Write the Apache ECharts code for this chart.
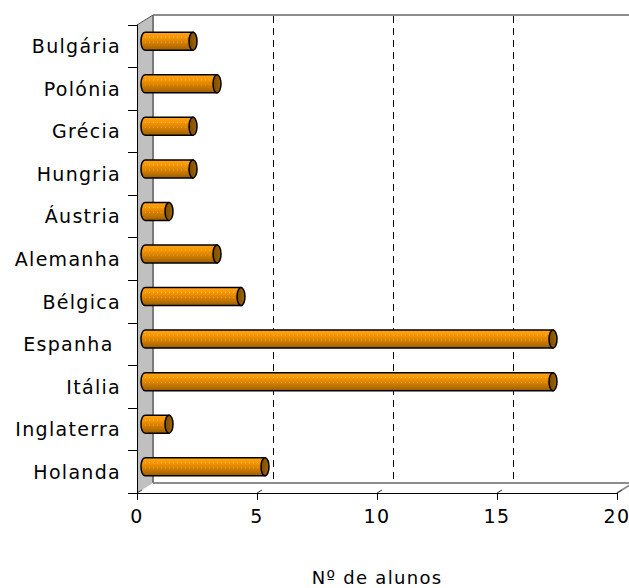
<!DOCTYPE html>
<html>
<head>
<meta charset="utf-8">
<script src="https://cdn.jsdelivr.net/npm/echarts@6/dist/echarts.min.js"></script>
<style>
  html, body { margin: 0; padding: 0; background: #fff; }
  #chart { width: 629px; height: 588px; }
  #chart text { letter-spacing: 1.3px; }
</style>
</head>
<body>
<div id="chart"></div>
<script>
// Students per country (bottom to top)
const categories = ['Holanda', 'Inglaterra', 'Itália', 'Espanha ', 'Bélgica', 'Alemanha', 'Áustria', 'Hungria', 'Grécia', 'Polónia', 'Bulgária'];
const alunos = [5, 1, 17, 17, 4, 3, 1, 2, 2, 3, 2];
// Value axis settings and back-wall grid lines
const axisMin = 0;
const axisMax = 20;
const axisStep = 5;
const gridValues = [5, 10, 15];
const tickValues = [0, 5, 10, 15, 20];
const axisTitle = 'Nº de alunos';

// Pseudo-3D depth offset of the back plane
const DX = 16, DY = -10;
const FONT = 'DejaVu Sans, Verdana, sans-serif';

const chart = echarts.init(document.getElementById('chart'), null, { renderer: 'svg' });

function renderFrame(params, api) {
  const cs = params.coordSys;
  const x = cs.x, y = cs.y, w = cs.width, h = cs.height;
  return {
    type: 'group',
    children: [
      { type: 'polygon', shape: { points: [[x, y + h], [x + DX, y + h + DY], [x + w + DX, y + h + DY], [x + w, y + h]] }, style: { fill: '#ffffff' } },
      { type: 'polygon', shape: { points: [[x, y], [x + DX, y + DY], [x + DX, y + h + DY], [x, y + h]] }, style: { fill: '#c0c0c0' } },
      { type: 'line', shape: { x1: x + DX, y1: y + DY, x2: x + w + DX, y2: y + DY }, style: { stroke: '#8c8c8c', lineWidth: 2 } },
      { type: 'line', shape: { x1: x + DX, y1: y + h + DY, x2: x + w + DX, y2: y + h + DY }, style: { stroke: '#8c8c8c', lineWidth: 2 } },
      { type: 'line', shape: { x1: x + DX, y1: y + DY, x2: x + DX, y2: y + h + DY }, style: { stroke: '#7a7a7a', lineWidth: 2 } },
      { type: 'line', shape: { x1: x, y1: y, x2: x + DX, y2: y + DY }, style: { stroke: '#555555', lineWidth: 1 } },
      { type: 'line', shape: { x1: x + w, y1: y + h, x2: x + w + DX, y2: y + h + DY }, style: { stroke: '#8c8c8c', lineWidth: 1.5 } }
    ]
  };
}

function renderGrid(params, api) {
  const cs = params.coordSys;
  const v = api.value(0);
  const xf = Math.round(api.coord([v, 0])[0]);
  const children = [
    { type: 'line', shape: { x1: xf, y1: cs.y + cs.height, x2: xf + 5, y2: cs.y + cs.height - 3 }, style: { stroke: '#333', lineWidth: 1 } }
  ];
  if (gridValues.indexOf(v) >= 0) {
    children.push({
      type: 'line',
      shape: { x1: xf + DX + 0.5, y1: cs.y + DY + 1, x2: xf + DX + 0.5, y2: cs.y + cs.height + DY - 1 },
      style: { stroke: '#000', lineWidth: 1, lineDash: [7, 5] }
    });
  }
  return { type: 'group', children: children };
}

function renderBar(params, api) {
  const val = api.value(0);
  const idx = api.value(1);
  const c0 = api.coord([0, idx]);
  const c1 = api.coord([val, idx]);
  const cy = c0[1] + DY / 2;
  const xl = c0[0] + DX / 2;
  const xr = c1[0] + DX / 2;
  const ry = 9, rx = 4;
  const top = cy - ry, bot = cy + ry;
  const body = 'M' + xl + ',' + top + ' L' + xr + ',' + top + ' L' + xr + ',' + bot + ' L' + xl + ',' + bot +
    ' A' + rx + ',' + ry + ' 0 0 1 ' + xl + ',' + top + ' Z';
  const cap = 'M' + (xr - rx) + ',' + cy + ' A' + rx + ',' + ry + ' 0 1 1 ' + (xr + rx) + ',' + cy +
    ' A' + rx + ',' + ry + ' 0 1 1 ' + (xr - rx) + ',' + cy + ' Z';
  return {
    type: 'group',
    children: [
      {
        type: 'path',
        shape: { pathData: body },
        style: {
          fill: new echarts.graphic.LinearGradient(0, 0, 0, 1, [
            { offset: 0, color: '#ffa41f' },
            { offset: 0.28, color: '#f99600' },
            { offset: 0.5, color: '#de8500' },
            { offset: 0.78, color: '#bb7000' },
            { offset: 1, color: '#9a5c00' }
          ]),
          stroke: '#000', lineWidth: 1.5
        }
      },
      { type: 'line', shape: { x1: xl, y1: cy - 4, x2: xr - rx, y2: cy - 4 }, style: { stroke: 'rgba(255,225,170,0.6)', lineWidth: 1, lineDash: [1, 3] } },
      { type: 'line', shape: { x1: xl, y1: cy + 1, x2: xr - rx, y2: cy + 1 }, style: { stroke: 'rgba(255,215,150,0.45)', lineWidth: 1, lineDash: [1, 3] } },
      {
        type: 'path',
        shape: { pathData: cap },
        style: {
          fill: new echarts.graphic.LinearGradient(0, 0, 1, 0, [
            { offset: 0, color: '#7a4c00' },
            { offset: 1, color: '#a06400' }
          ]),
          stroke: '#000', lineWidth: 1.5
        }
      }
    ]
  };
}

chart.setOption({
  animation: false,
  backgroundColor: '#fff',
  textStyle: { fontFamily: FONT },
  grid: { left: 137, right: 12, top: 25, bottom: 95, containLabel: false, outerBoundsMode: 'none' },
  xAxis: {
    type: 'value',
    min: axisMin, max: axisMax, interval: axisStep,
    z: 5,
    axisLine: { show: true, lineStyle: { color: '#000', width: 1 } },
    axisTick: { show: true, length: 7, lineStyle: { color: '#000' } },
    axisLabel: { color: '#000', fontSize: 19, fontFamily: FONT, margin: 13 },
    splitLine: { show: false },
    name: axisTitle,
    nameLocation: 'middle',
    nameGap: 75,
    nameTextStyle: { color: '#000', fontSize: 18, fontFamily: FONT }
  },
  yAxis: {
    type: 'category',
    data: categories,
    z: 5,
    axisLine: { show: true, lineStyle: { color: '#000', width: 1 } },
    axisTick: { show: true, length: 9, lineStyle: { color: '#000' } },
    axisLabel: { color: '#000', fontSize: 19, fontFamily: FONT, margin: 16, padding: [4, 0, 0, 0] },
    splitLine: { show: false }
  },
  series: [
    { type: 'custom', z: 0, renderItem: renderFrame, data: [[0, 0]], silent: true },
    { type: 'custom', z: 1, renderItem: renderGrid, data: tickValues.map(v => [v, 0]), encode: { x: 0, y: 1 }, silent: true },
    { type: 'custom', z: 2, renderItem: renderBar, data: alunos.map((v, i) => [v, i]), encode: { x: 0, y: 1 } }
  ]
});
</script>
</body>
</html>
